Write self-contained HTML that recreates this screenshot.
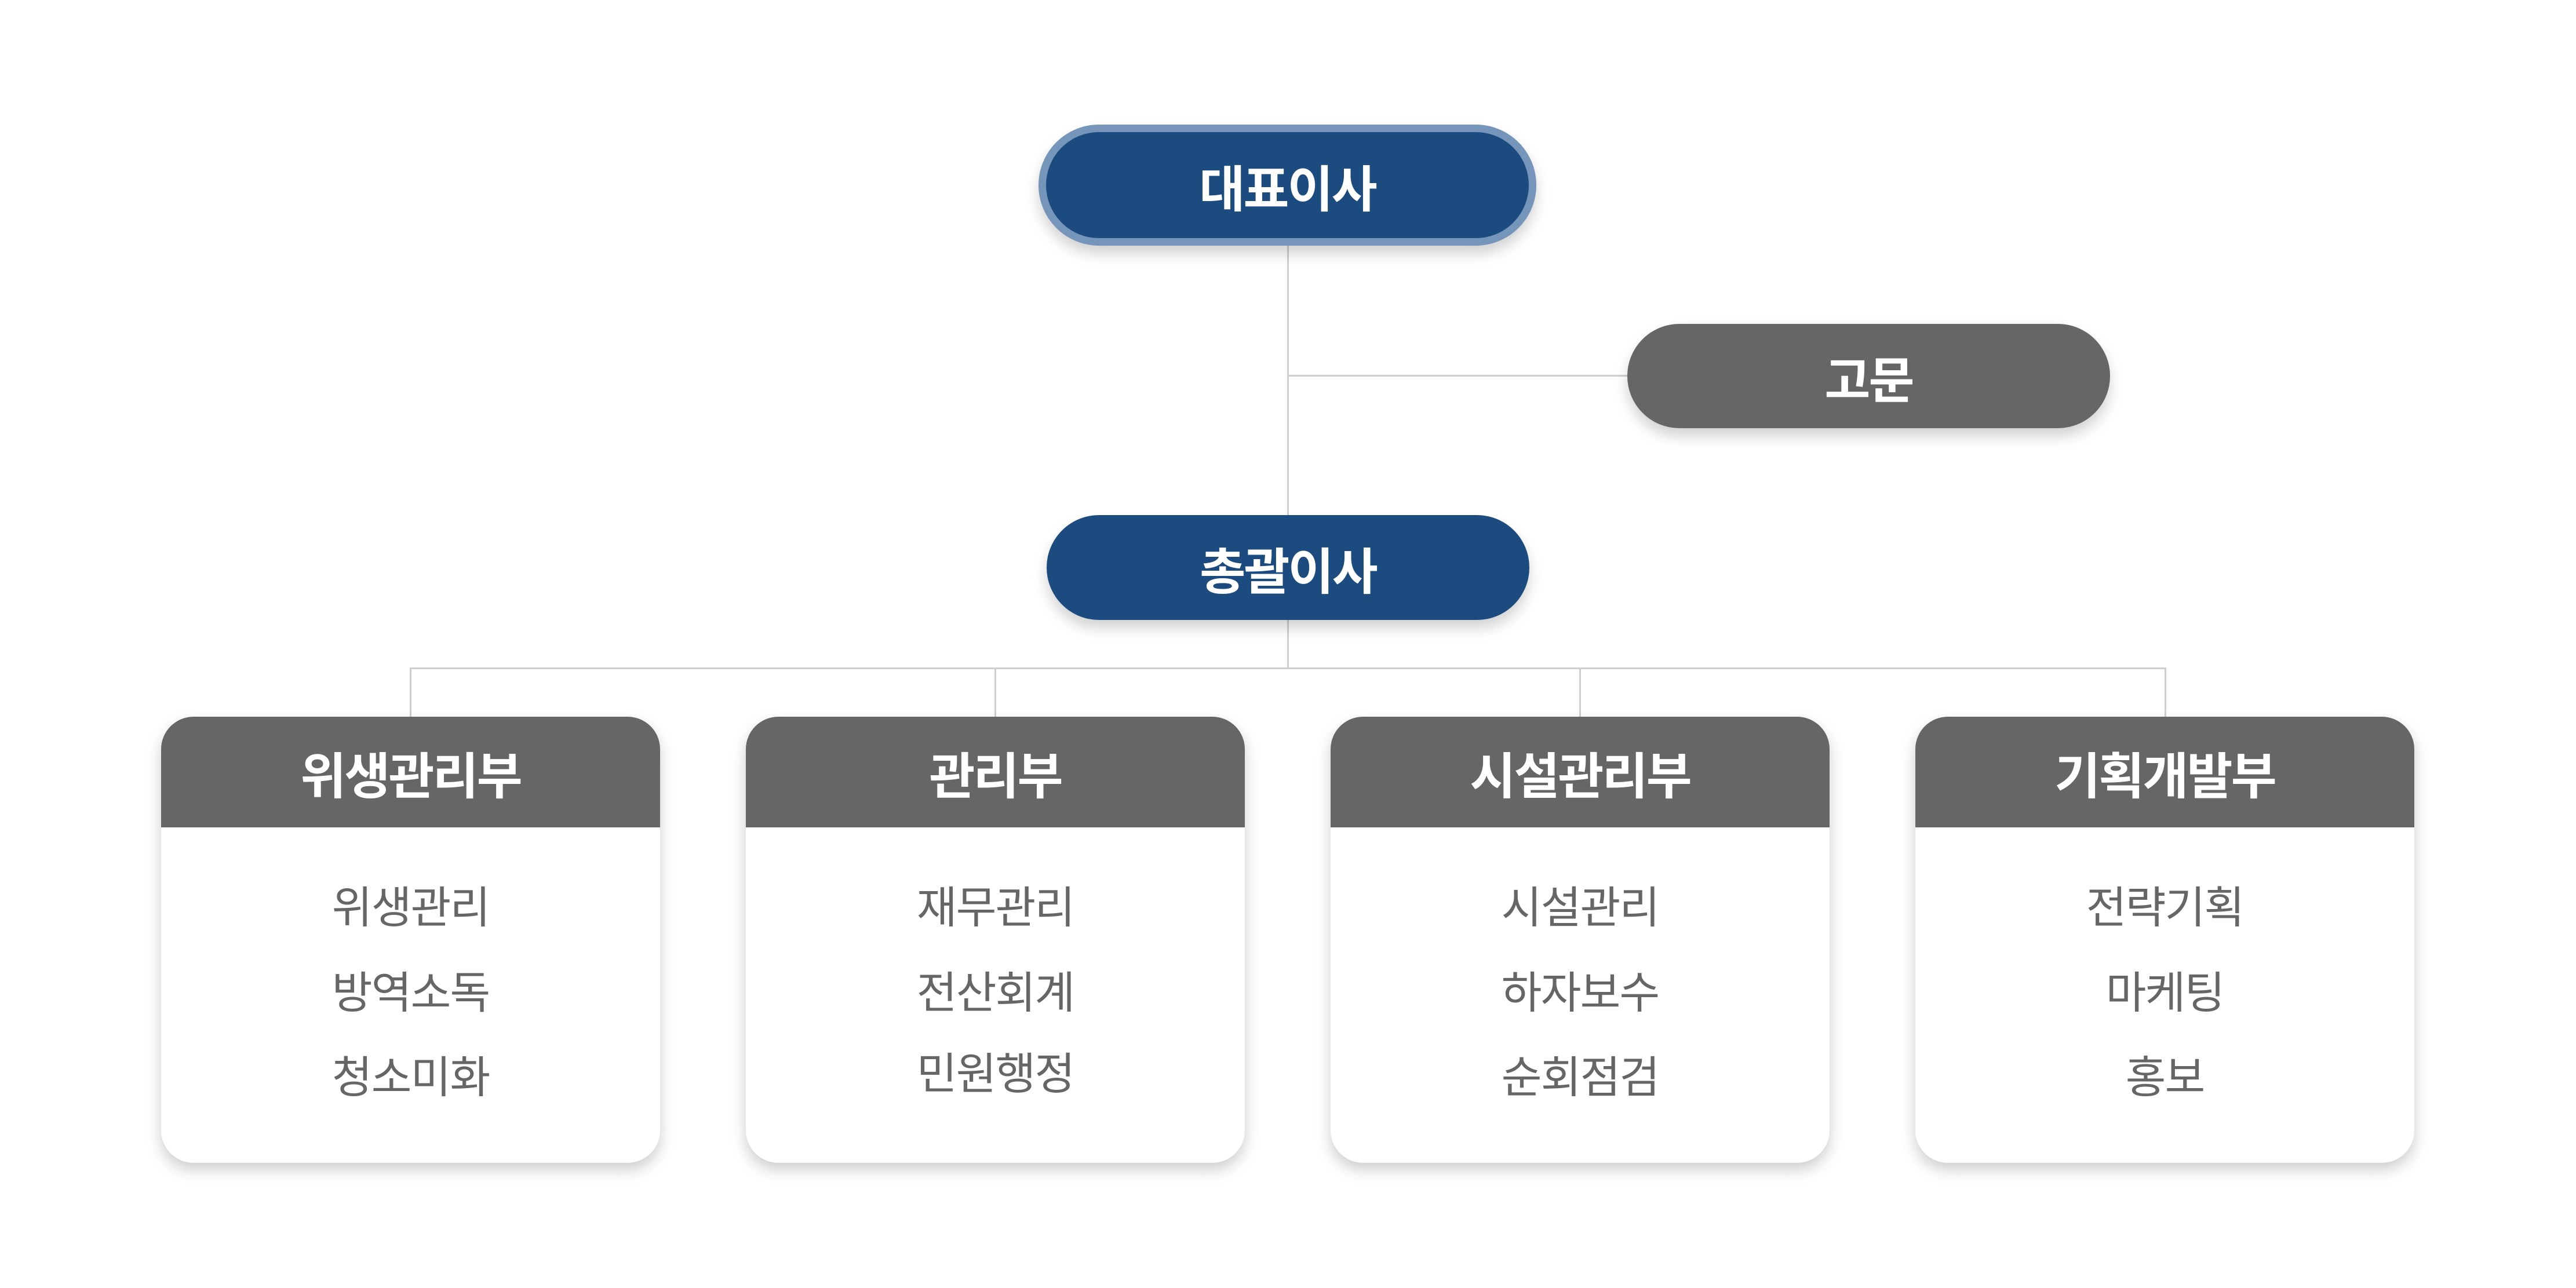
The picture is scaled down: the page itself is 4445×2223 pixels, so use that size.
<!DOCTYPE html>
<html><head><meta charset="utf-8"><style>
*{margin:0;padding:0;box-sizing:border-box}
body{width:4445px;height:2223px;background:#fff;position:relative;overflow:hidden;font-family:"Liberation Sans","Noto Sans CJK KR",sans-serif}
.ln{position:absolute;background:#cfcfcf}
.pill{position:absolute;display:flex;align-items:center;justify-content:center;color:#fff;font-weight:bold;font-size:86px;letter-spacing:-3px;border-radius:999px;box-shadow:0 14px 24px rgba(0,0,0,.18)}
.box{position:absolute;top:1237px;width:861px;height:770px;border-radius:56px;background:#fff;box-shadow:0 12px 26px rgba(0,0,0,.2);overflow:hidden}
.hd{height:191px;background:#666;color:#fff;font-weight:bold;font-size:86px;letter-spacing:-3px;display:flex;align-items:center;justify-content:center}
.it{position:absolute;left:0;width:100%;text-align:center;color:#666;font-size:76px;letter-spacing:-2px;line-height:100px}
</style></head><body>
<div class="ln" style="left:2221px;top:400px;width:3px;height:755px"></div>
<div class="ln" style="left:2222px;top:647px;width:600px;height:3px"></div>
<div class="ln" style="left:707px;top:1152px;width:3031px;height:3px"></div>
<div class="ln" style="left:707px;top:1152px;width:3px;height:90px"></div>
<div class="ln" style="left:1716px;top:1152px;width:3px;height:90px"></div>
<div class="ln" style="left:2725px;top:1152px;width:3px;height:90px"></div>
<div class="ln" style="left:3735px;top:1152px;width:3px;height:90px"></div>

<div class="pill" style="left:1792px;top:215px;width:859px;height:209px;background:#1c4b80;border:13px solid #7596ba">대표이사</div>
<div class="pill" style="left:2808px;top:559px;width:833px;height:180px;background:#666">고문</div>
<div class="pill" style="left:1806px;top:889px;width:833px;height:181px;background:#1c4b80">총괄이사</div>

<div class="box" style="left:278px"><div class="hd">위생관리부</div>
<div class="it" style="top:281px">위생관리</div><div class="it" style="top:428px">방역소독</div><div class="it" style="top:574px">청소미화</div></div>
<div class="box" style="left:1287px"><div class="hd">관리부</div>
<div class="it" style="top:281px">재무관리</div><div class="it" style="top:428px">전산회계</div><div class="it" style="top:568px">민원행정</div></div>
<div class="box" style="left:2296px"><div class="hd">시설관리부</div>
<div class="it" style="top:281px">시설관리</div><div class="it" style="top:428px">하자보수</div><div class="it" style="top:574px">순회점검</div></div>
<div class="box" style="left:3305px"><div class="hd">기획개발부</div>
<div class="it" style="top:281px">전략기획</div><div class="it" style="top:428px">마케팅</div><div class="it" style="top:574px">홍보</div></div>
</body></html>
